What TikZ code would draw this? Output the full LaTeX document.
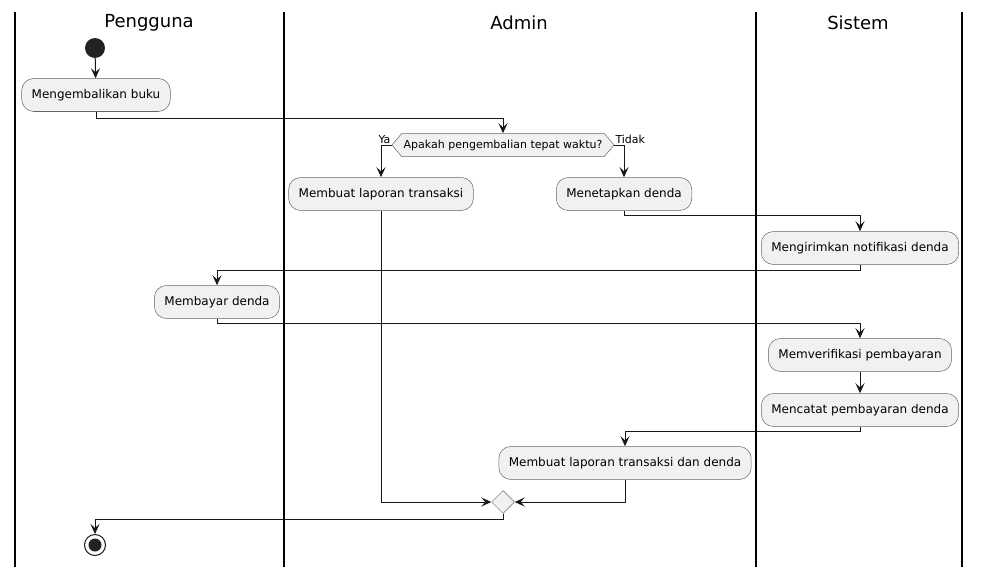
\documentclass[tikz,border=0pt]{standalone}
\usepackage{fontspec}
\setmainfont{DejaVu Sans}
\usetikzlibrary{positioning,arrows.meta,shapes.symbols,shapes.geometric}
\definecolor{umlfill}{HTML}{F1F1F1}
\definecolor{umlline}{HTML}{181818}
\definecolor{umldot}{HTML}{222222}

\begin{document}
\begin{tikzpicture}[
  x=1pt, y=-1pt,
  font=\fontsize{12}{14}\selectfont,
  act/.style={rectangle, rounded corners=12pt, draw=black!60, line width=0.5pt,
              fill=umlfill, minimum height=33pt, inner xsep=10pt, inner ysep=2pt},
  cek/.style={signal, signal to=west and east, signal pointer angle=100,
              draw=black!60, line width=0.5pt, fill=umlfill, minimum height=23pt,
              inner xsep=2pt, inner ysep=1pt, font=\fontsize{11}{13}\selectfont},
  gabung/.style={diamond, draw=black!60, line width=0.5pt, fill=umlfill,
                 minimum size=23pt, inner sep=0pt},
  mulai/.style={circle, fill=umldot, minimum size=20pt, inner sep=0pt},
  selesai/.style={circle, draw=umlline, line width=1pt, fill=white,
                  minimum size=21pt, inner sep=0pt},
  lane/.style={draw=black, line width=1.3pt},
  judul/.style={font=\fontsize{18}{20}\selectfont},
  lbl/.style={font=\fontsize{11}{13}\selectfont, inner sep=1pt},
  arr/.style={-{Stealth[length=10pt, width=9pt, inset=4pt]}, draw=umlline, line width=1pt}
]
\useasboundingbox (0,0) rectangle (981,567);

% swimlanes
\draw[lane] (15,12) -- (15,567);
\draw[lane] (284,12) -- (284,567);
\draw[lane] (756,12) -- (756,567);
\draw[lane] (962,12) -- (962,567);
\node[judul] (tPengguna) at (149,23) {Pengguna};
\node[judul] (tAdmin) at (519,23) {Admin};
\node[judul] (tSistem) at (858,23) {Sistem};

% activities
\node[mulai] (start) at (95,48) {};
\node[act] (kembali) at (96,95) {Mengembalikan buku};
\node[cek] (tepat) at (503,145) {Apakah pengembalian tepat waktu?};
\node[act] (lapor) at (381,194) {Membuat laporan transaksi};
\node[act] (denda) at (624,194) {Menetapkan denda};
\node[act] (notif) at (860,248) {Mengirimkan notifikasi denda};
\node[act] (bayar) at (217,302) {Membayar denda};
\node[act] (verif) at (860,355) {Memverifikasi pembayaran};
\node[act] (catat) at (860,410) {Mencatat pembayaran denda};
\node[act] (laporakhir) at (625,463) {Membuat laporan transaksi dan denda};
\node[gabung] (merge) at (503,502) {};
\node[selesai] (stop) at (95,545) {};
\fill[umldot] (stop.center) circle (6.5pt);

% flow
\draw[arr] (start) -- (kembali);
\draw[arr] (kembali.south) -- ++(0,7) -| (tepat.north);
\draw[arr] (tepat.west) -| (lapor.north);
\node[lbl, anchor=south east] (ya) at (tepat.west) {Ya};
\draw[arr] (tepat.east) -| (denda.north);
\node[lbl, anchor=south west] (tidak) at (tepat.east) {Tidak};
\draw[arr] (denda.south) -- ++(0,5) -| (notif.north);
\draw[arr] (notif.south) -- ++(0,6) -| (bayar.north);
\draw[arr] (bayar.south) -- ++(0,5) -| (verif.north);
\draw[arr] (verif) -- (catat);
\draw[arr] (catat.south) -- ++(0,5) -| (laporakhir.north);
\draw[arr] (lapor.south) |- (merge.west);
\draw[arr] (laporakhir.south) |- (merge.east);
\draw[arr] (merge.south) -- ++(0,6) -| (stop.north);
\end{tikzpicture}
\end{document}
